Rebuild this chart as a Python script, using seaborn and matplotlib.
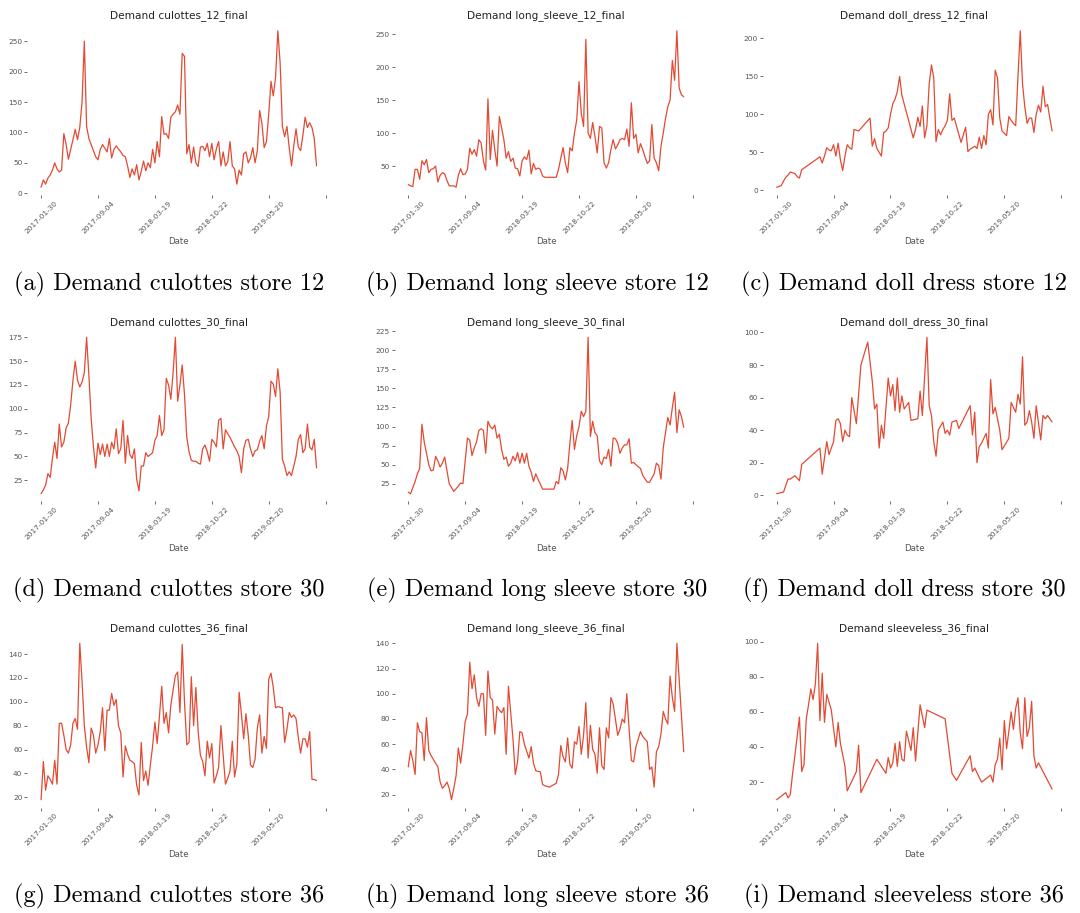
import matplotlib
matplotlib.use("Agg")
import matplotlib.pyplot as plt
from matplotlib.ticker import MultipleLocator
import pandas as pd
import seaborn as sns

N = None  # week with no recorded demand

# Shared weekly index: a labelled date every 25 weeks
tick_dates = ["2017-01-30", "2017-09-04", "2018-03-19", "2018-10-22", "2019-05-20", ""]
weeks_per_tick = 25

culottes_12 = [10, 22, 15, 25, 30, 38, 50, 40, 35, 38, 98, 80, 56, 72, 88, 105, 88, 108, 150, 250,
               110, 90, 80, 70, 60, 55, 72, 80, 74, 68, 90,
               58, 72, 78, 73, 68, 62, 60, 45, 26,
               40, 30, 47, 22,
               36, 53, 37, 50, 42, 72, 50, 85, 60, 126,
               97, 98, 90, 125, 130, 134, 145, 130, 230, 225, 65,
               80, 50, 76, 50, 44, 76, 77, 70, 82, 60, 82, 55, 73, 85, 45, 68, 45, 52, 85, 45, 40, 15,
               38, 30, 65, 68, 50, 58, 75, 50, 70, 136,
               115, 75, 85, 130, 184, 160, 190, 267,
               215, 110, 93, 110, 75, 45, 78, 106, 76, 70, 95, 125, 108, 116, 108, 90, 45]

long_sleeve_12 = [22, 20, 19, 45, 45, 30, 58, 52, 60,
                  40, 45, 46, 50, 26, 36, 40, 38, 28, 20, 20, 20, 18, 36, 46, 37, 38, 45,
                  77, 68, 75, 65, 90, 85, 58, 44, 152,
                  60, 104, 75, 50, 125, 108, 90, 62, 72, 57, 62, 47, 46, 35, 58, 64, 60, 74, 38, 54, 45, 47, 45, 35, 33,
                  N, N, N, N,
                  33, 45, 62, 78, 55, 40, 78, 73, 100, 120, 178, 130, 110, 242,
                  100, 92, 116, 95, 70, 110, 108,
                  55, 47, 55, 75, 90, 76, 82, 90, 92, 90, 106, 80, 146,
                  92, 98, 70, 84, 75, 64, 54, 58, 113, 62, 55,
                  43, 80, 100, 122, 140, 150, 210, 180, 255, 168, 158, 155]

doll_dress_12 = [4, 5, 6, 12, 17, 20, 24, 23, 22, 18, 16, 27,
                 N, N, N, N, N, N, N,
                 44, 36, 45, 56, 53, 52, 60, 45, 62, 40, 26, 45, 60, 56, 54, 80, 79, 78,
                 N, N, N, N,
                 95, 58, 68, 55, 50, 45, 76, 78, 82, 100, 114, 120, 130, 150, 125,
                 N, N, N, N,
                 69, 80, 96, 84, 111, 69, 85, 140, 165, 148, 64, 80, 73, 80, 85, 92, 127, 92, 95,
                 N, N,
                 63, 73, 83, 51, 54, 56, 58, 55, 70, 55, 72, 60, 100, 106, 86, 158, 148, 95, 78, 75, 72,
                 97, 92, 88, 85, 150, 210, 140, 110, 88, 95, 95, 76, 100, 112, 103, 137, 110, 113, 95, 78]

culottes_30 = [11, 15, 20, 32, 28, 48, 65, 48, 84, 60, 65, 80, 85, 104, 130, 150, 130, 123, 128, 138, 175, 135, 90, 60, 38,
               64, 52, 63, 50, 63, 50, 65, 58, 79, 53, 58, 88, 43, 72, 52, 48, 58, 26, 14,
               40, 40, 54, 50, 52, 54, 67, 72, 93, 72, 78, 132, 125, 110, 138, 175,
               108, 125, 146, 115,
               70, 55, 46, 45, 45, 43, 42, 58, 62, 55, 45, 68, 65, 60, 88, 90, 58, 78, 74, 70, 65, 60, 56, 50, 33,
               58, 67, 68, 58, 50, 56, 57, 66, 72, 58, 82, 92, 129, 126, 113, 142,
               118, 47, 40, 30, 34, 30, 40, 50, 68, 73, 54, 58, 84, 60, 57, 68, 38]

long_sleeve_30 = [14, 12, 20, 28, 38, 45, 103, 80, 65, 50, 42, 43, 61, 55, 47, 52, 60, 42, 25,
                  N, 15, N,
                  22, 26, 25, 55, 85, 82, 62, 72, 80, 95, 97, 95, 65, 107, 100, 97, 102, 85, 90, 70, 57, 60,
                  48, 52, 61, 55, 66, 52, 65, 52, 65, 48, 40, 28, 38, 31,
                  N, 18, N, N, N, N, 18,
                  28, 25, 46, 42, 30, 45, 78, 108, 70, 88, 100, 120, 113, 120, 217,
                  87, 107, 92, 88, 55, 50, 60, 58, 70, 48, 85, 84, 78, 65, 72, 76, 76, 84, 52, 53, 50,
                  N, 45, 36, N, 27, 27, N, 38, 52, 49, 31,
                  72, 92, 112, 102, 125, 145, 92, 122, 113, 99]

doll_dress_30 = [1, N, N, 2, N, 10, 10, N, 12, N, 9, 19,
                 N, N, N, N, N, N, N,
                 29, 13, N, 33, 25, N, 33, 46, 47, 44, 33, 40, 37, 36, 60, N, 44, N, 80, N, N, 94,
                 N, 70, 53, 56, 29, 43, 35, N, 72, 61, 68, 52, 72, 51, 61, 53, N, 57, 46, N, N, 47, 64, 49, N,
                 97, 55, 49, 33, 24, 40, N, 45, 38, 40, 37, 45, N, 46, 41,
                 N, N, N, N,
                 55, 37, 51, 20, 30, 32, N, 38, 29, 71, 50, 54, N, 40, 28, N, N, 35, 57, N, 51, 62, 56, 85,
                 43, 45, 52, 45, 35, 55, N, 34, 49, 47, 49, 47, 45]

culottes_36 = [18, 50, 26, 38, 35, 31, 51, 31, 82, 82, 72, 60, 57, 64, 82, 86, 77, 149,
               117, 80, 62, 49, 78, 72, 57, 64, 75, 95, 59, 93, 93, 107, 97, 102, 80, 74, 37,
               63, 56, 51, 50, 48, 30, 22,
               66, 34, 42, 30, 47, 63, 83, 65, 88, 113,
               82, 91, 74, 97, 110, 122, 125, 91, 148,
               100, 64, 66, 121, 80, 112, 75, 55, 50, 38, 67, 53, 65, 32,
               38, 45, 80, 55, 31, 36, 42, 67, 37, 48, 108, 90, 69, 90,
               72, 47, 45, 52, 78, 89, 57, 71, 61, 119, 124, 112,
               95, 96, N, 95, 66,
               77, 91, 87, 89, 86, 70, 57, 69, 69, 62, 75, 35, 35, 34]

long_sleeve_36 = [42, 55, 47, 36, 77, 70, 69, 47, 81, 55, 51, 48, 45, 42, 30, 25, 27, 30, 25, 16,
                  25, 35, 57, 45, 60, 78, 84, 125, 104, 115, 97, 90, 100, 100, 67, 118, 97, 95, 68, 90,
                  87, 85, 89, 52, 106, 85, 64, 36, 46, 70, 69, 60,
                  N, 49, 58, 45, 39, N, 38, 28, 27, N, 26, N, 28, 29, 36,
                  59, 50, 46, 65, 44, 41, 62, 60, 74, 52, 67, 93, 49, 75, 56, 52, 37, 73, 43, 40, 73, 65,
                  97, 92, 80, 67, 72, 80, 77, 100, 72, 47, 46, 58,
                  N, 70, 66, 64, 62, 40, 42, 26, 54, 58, 68, 86, 80, 76, 114, 97, 86, 140, N, N, 54]

sleeveless_36 = [10, N, N, N, 14, 11, 13, 25, 35, N, 57, 26, 30, 56, 64, 73, 67, 76, 99, 55, 82, 54, 70, N, 61,
                 N, 40, 54, 42, N, 29, 15, N, N, N, 26, 41, 14,
                 N, N, N, N, N, N,
                 33, N, 29, N, 25, 34, 28, 31, 42, 29, 43, 33, 32, 49, N, 38, 51, 32, 48, 64, N, 51, 61,
                 N, N, N, N, N, N, N,
                 56, N, N, 25, N, 21,
                 N, N, N, N, N,
                 35, 26, 28, N, N, 20, N, N, N, 24, 20, 30, 33, 45, 27, 55, 39, 49, 60, 50, 62, 68, 48, 39,
                 68, 46, 51, 66, 35, 28, 31,
                 N, N, N, N, N, 16]

titles = ["Demand culottes_12_final", "Demand long_sleeve_12_final", "Demand doll_dress_12_final",
          "Demand culottes_30_final", "Demand long_sleeve_30_final", "Demand doll_dress_30_final",
          "Demand culottes_36_final", "Demand long_sleeve_36_final", "Demand sleeveless_36_final"]
captions = ["(a) Demand culottes store 12", "(b) Demand long sleeve store 12", "(c) Demand doll dress store 12",
            "(d) Demand culottes store 30", "(e) Demand long sleeve store 30", "(f) Demand doll dress store 30",
            "(g) Demand culottes store 36", "(h) Demand long sleeve store 36", "(i) Demand sleeveless store 36"]
series = [culottes_12, long_sleeve_12, doll_dress_12,
          culottes_30, long_sleeve_30, doll_dress_30,
          culottes_36, long_sleeve_36, sleeveless_36]
y_steps = [50, 50, 50, 25, 25, 20, 20, 20, 20]

RED = "#E24A33"
GREY = "#555555"

sns.set_theme(style="ticks")
plt.rcParams["font.family"] = ["DejaVu Sans"]

W, H = 1080, 913
fig = plt.figure(figsize=(W / 100, H / 100), dpi=100)
fig.patch.set_facecolor("white")

col_left = [27.3, 394.5, 762.9]
row_top = [23.0, 329.5, 635.5]
ax_w, ax_h = 303.0, 172.0
cap_x = [169, 537, 904]
cap_base = [290.7, 596.7, 902.7]

tick_pos = [i * weeks_per_tick for i in range(len(tick_dates))]

for k, (title, caption, values, step) in enumerate(zip(titles, captions, series, y_steps)):
    r, c = divmod(k, 3)
    ax = fig.add_axes([col_left[c] / W, 1 - (row_top[r] + ax_h) / H, ax_w / W, ax_h / H])
    df = pd.DataFrame({"week": range(len(values)), "demand": values}).dropna()
    sns.lineplot(data=df, x="week", y="demand", ax=ax, color=RED, linewidth=0.9)

    ax.set_xticks(tick_pos)
    ax.set_xticklabels(tick_dates, rotation=45, ha="center")
    ax.yaxis.set_major_locator(MultipleLocator(step))
    ax.tick_params(axis="both", length=2, width=0.6, color=GREY, pad=1.5,
                   labelsize=5.3, labelcolor=GREY)
    sns.despine(ax=ax, left=True, bottom=True)

    ax.set_title(title, fontsize=7.6, pad=3.5, color="#222222")
    ax.set_xlabel("Date", fontsize=6.2, color=GREY, labelpad=2)
    ax.set_ylabel("")

    fig.text(cap_x[c] / W, 1 - cap_base[r] / H, caption, ha="center", va="baseline",
             fontsize=17.5, family="cmr10", color="black")

fig.savefig("out.png", dpi=100)
